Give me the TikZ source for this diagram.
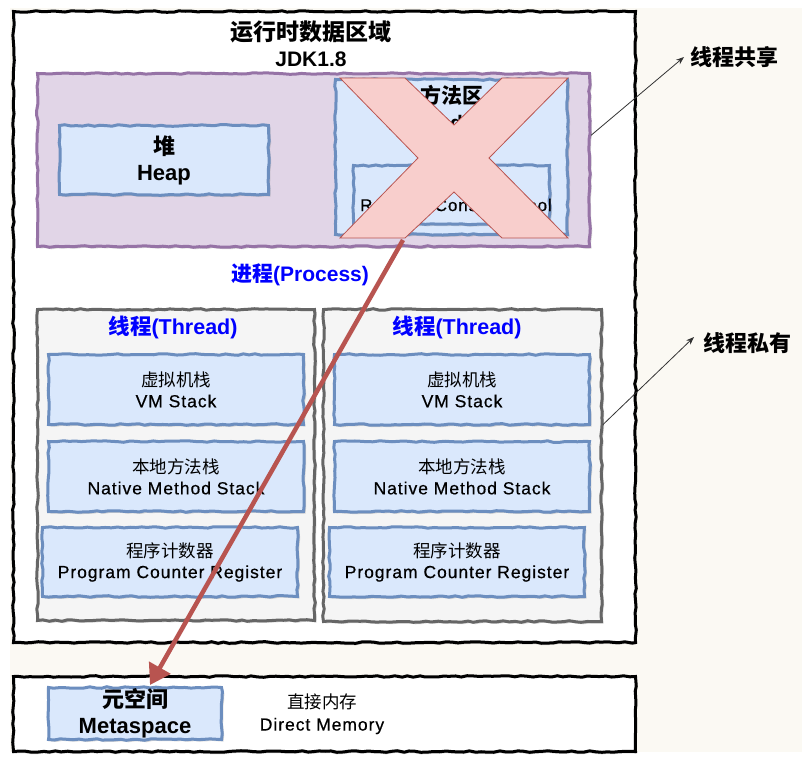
\documentclass[tikz,border=0pt]{standalone}
\usepackage{fontspec}
\setmainfont{Liberation Sans}
\newfontfamily\cjk{Noto Sans CJK SC}
\newfontfamily\latinmed[LetterSpace=5.5,FakeBold=0.5]{Liberation Sans}
\usetikzlibrary{arrows.meta,shadows,decorations.pathmorphing,calc}
\definecolor{bgbeige}{HTML}{FBF9F3}
\definecolor{purplefill}{HTML}{E1D5E7}
\definecolor{purpleline}{HTML}{9673A6}
\definecolor{bluefill}{HTML}{DAE8FC}
\definecolor{blueline}{HTML}{6C8EBF}
\definecolor{grayfill}{HTML}{F5F5F5}
\definecolor{grayline}{HTML}{666666}
\definecolor{redfill}{HTML}{F8CECC}
\definecolor{redline}{HTML}{B85450}
\definecolor{labelblue}{HTML}{0000FF}
\newcommand\fs[2]{\fontsize{#1}{#2}\selectfont}
\newcommand\twolines[2]{{\cjk #1}\\{\latinmed #2}}
\tikzset{
  wobble/.style={decorate,decoration={random steps,segment length=6pt,amplitude=0.8pt}},
  boxbase/.style={rectangle,anchor=north west,inner sep=0pt,align=center,wobble},
  outerbox/.style={boxbase,draw=black,line width=3pt,fill=white,
     drop shadow={shadow xshift=0pt,shadow yshift=-2pt,opacity=0.35,fill=black!60}},
  purplebox/.style={boxbase,draw=purpleline,line width=3pt,fill=purplefill,
     drop shadow={shadow xshift=2pt,shadow yshift=-2pt,opacity=0.3,fill=black!50}},
  bluebox/.style={boxbase,draw=blueline,line width=3pt,fill=bluefill,
     drop shadow={shadow xshift=2pt,shadow yshift=-2pt,opacity=0.3,fill=black!50}},
  graybox/.style={boxbase,draw=grayline,line width=3pt,fill=grayfill,
     drop shadow={shadow xshift=2pt,shadow yshift=-2pt,opacity=0.3,fill=black!50}},
  innertext/.style={font=\fs{17.5}{21}},
  threadlabel/.style={font=\fs{21.5}{24}\bfseries,text=labelblue},
  sidelabel/.style={font=\fs{22}{26}\bfseries\cjk,anchor=west,inner sep=5pt},
  thinarrow/.style={draw=black!80,line width=0.8pt,-{Stealth[length=8pt,width=6pt]}},
  redarrow/.style={draw=redline,line width=4.5pt,-{Triangle[length=20pt,width=24pt]}},
}
\begin{document}
\begin{tikzpicture}[x=1pt,y=-1pt]
\pgfmathsetseed{7}
\useasboundingbox (0,0) rectangle (802,765);
\fill[white] (0,0) rectangle (802,765);
\fill[bgbeige] (10,8) rectangle (802,752);

% runtime data area
\node[outerbox,minimum width=622pt,minimum height=631pt] (runtime) at (12,10) {};
\node[font=\fs{23}{26}\bfseries\cjk] (title) at (311,32) {运行时数据区域};
\node[font=\fs{21}{24}\bfseries] (jdk) at (311,59) {JDK1.8};

% shared area
\node[purplebox,minimum width=552pt,minimum height=173pt] (shared) at (36,72) {};
\node[bluebox,minimum width=209pt,minimum height=69pt,font=\fs{22}{26}\bfseries] (heap) at (58,124) {{\cjk 堆}\\Heap};
\node[bluebox,minimum width=232pt,minimum height=155pt] (method) at (334,78) {};
\node[font=\fs{21}{27}\bfseries,align=center] (methodtxt) at (452,108) {{\cjk 方法区}\\Method Area};
\node[bluebox,minimum width=196pt,minimum height=59pt] (pool) at (352,164) {};
\node[font=\fs{17}{20}\latinmed] (pooltxt) at (456,205) {Runtime Constant Pool};

% the cross
\draw[fill=redfill,draw=redline,line width=0.8pt]
  (340,78) -- (405,78) -- (454,125) -- (502,78) -- (568,78) -- (489,158)
  -- (568,238) -- (502,238) -- (454,192) -- (405,238) -- (340,238) -- (418,158) -- cycle;

\node[font=\fs{21}{24}\bfseries,text=labelblue] (process) at (300,275) {{\cjk 进程}(Process)};

% thread 1
\node[graybox,minimum width=277pt,minimum height=311pt] (thread1) at (36,308) {};
\node[threadlabel] (t1label) at (173,327) {{\cjk 线程}(Thread)};
\node[bluebox,innertext,minimum width=255pt,minimum height=70pt] (vm1) at (47,353) {\twolines{虚拟机栈}{VM Stack}};
\node[bluebox,innertext,minimum width=255pt,minimum height=70pt] (native1) at (47,440) {\twolines{本地方法栈}{Native Method Stack}};
\node[bluebox,innertext,minimum width=255pt,minimum height=69pt] (pc1) at (41,526) {\twolines{程序计数器}{Program Counter Register}};

% thread 2
\node[graybox,minimum width=278pt,minimum height=312pt] (thread2) at (322,308) {};
\node[threadlabel] (t2label) at (457,327) {{\cjk 线程}(Thread)};
\node[bluebox,innertext,minimum width=255pt,minimum height=70pt] (vm2) at (333,353) {\twolines{虚拟机栈}{VM Stack}};
\node[bluebox,innertext,minimum width=255pt,minimum height=70pt] (native2) at (333,440) {\twolines{本地方法栈}{Native Method Stack}};
\node[bluebox,innertext,minimum width=255pt,minimum height=69pt] (pc2) at (328,526) {\twolines{程序计数器}{Program Counter Register}};

% direct memory
\node[outerbox,minimum width=622pt,minimum height=75pt] (direct) at (12,675) {};
\node[bluebox,minimum width=173pt,minimum height=52pt,font=\fs{22}{26}\bfseries] (meta) at (47,686) {{\cjk 元空间}\\Metaspace};
\node[font=\fs{17.5}{22},align=center] (directtxt) at (322,714) {\twolines{直接内存}{Direct Memory}};

% side labels
\node[sidelabel] (sharelbl) at (685,57) {线程共享};
\node[sidelabel] (privlbl) at (698,343) {线程私有};
\coordinate (sharedpt) at ($(shared.north east)!0.36!(shared.south east)$);
\coordinate (threadpt) at ($(thread2.north east)!0.37!(thread2.south east)$);
\draw[thinarrow] (sharedpt) -- ($(sharelbl.west)+(-1,0)$);
\draw[thinarrow] (threadpt) -- ($(privlbl.west)+(-4,-6)$);

% red arrow
\coordinate (xbot) at (403,240);
\coordinate (metatip) at (150,685);
\draw[redarrow] (xbot) -- (metatip);
\end{tikzpicture}
\end{document}
